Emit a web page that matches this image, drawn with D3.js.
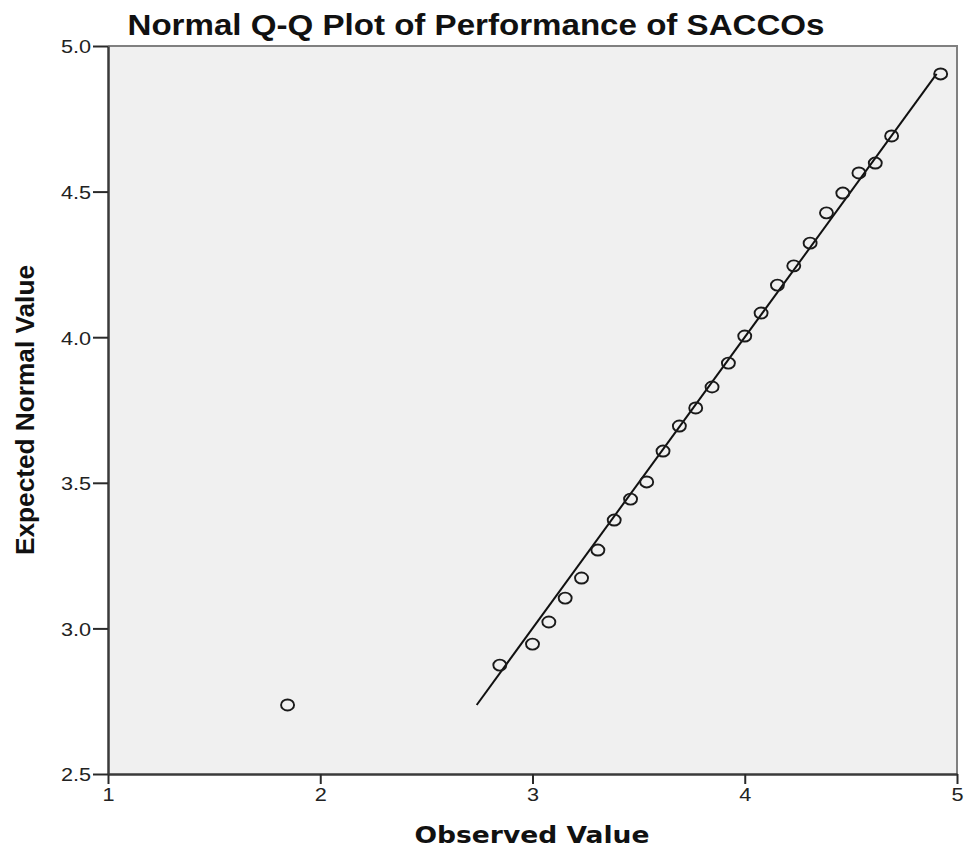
<!DOCTYPE html>
<html>
<head>
<meta charset="utf-8">
<script src="https://cdn.jsdelivr.net/npm/d3@7"></script>
<style>
  html, body { margin: 0; padding: 0; background: #fff; overflow: hidden; }
  svg { display: block; }
  .tick text { font-size: 19px; font-family: 'Liberation Sans', Arial, sans-serif; }
</style>
</head>
<body>
<svg id="chart" width="965" height="855"></svg>
<script>
// Observed scale scores (means of 13 items) and their expected normal values
const observed = [1.846, 2.846, 3.000, 3.077, 3.154, 3.231, 3.308, 3.385, 3.462, 3.538,
                  3.615, 3.692, 3.769, 3.846, 3.923, 4.000, 4.077, 4.154, 4.231, 4.308,
                  4.385, 4.462, 4.538, 4.615, 4.692, 4.923];
const expected = [2.737, 2.874, 2.946, 3.022, 3.104, 3.173, 3.269, 3.372, 3.444, 3.503,
                  3.609, 3.695, 3.757, 3.829, 3.911, 4.004, 4.083, 4.179, 4.245, 4.323,
                  4.427, 4.495, 4.564, 4.598, 4.691, 4.904];
const xTicks = [1, 2, 3, 4, 5];
const yTicks = [2.5, 3.0, 3.5, 4.0, 4.5, 5.0];
const title = "Normal Q-Q Plot of Performance of SACCOs";
const xLabel = "Observed Value";
const yLabel = "Expected Normal Value";

const svg = d3.select("#chart");
const plot = { left: 108, right: 957, top: 46, bottom: 774 };

const x = d3.scaleLinear().domain([1, 5]).range([plot.left, plot.right]);
const y = d3.scaleLinear().domain([2.5, 5.0]).range([plot.bottom, plot.top]);

// plot background and frame
svg.append("rect")
  .attr("x", plot.left).attr("y", plot.top)
  .attr("width", plot.right - plot.left).attr("height", plot.bottom - plot.top)
  .attr("fill", "#f0f0f0");
svg.append("path")
  .attr("d", `M${plot.left},${plot.top}H${plot.right}V${plot.bottom}`)
  .attr("fill", "none").attr("stroke", "#808080").attr("stroke-width", 2);

// axes
const xAxis = d3.axisBottom(x).tickValues(xTicks).tickFormat(d3.format("d"))
  .tickSizeInner(10).tickSizeOuter(0).tickPadding(4);
const yAxis = d3.axisLeft(y).tickValues(yTicks).tickFormat(d3.format(".1f"))
  .tickSizeInner(15).tickSizeOuter(0).tickPadding(2);

const gx = svg.append("g").attr("transform", `translate(0,${plot.bottom})`).call(xAxis);
const gy = svg.append("g").attr("transform", `translate(${plot.left},0)`).call(yAxis);

[gx, gy].forEach(g => {
  g.attr("font-size", 19).attr("font-family", "'Liberation Sans', Arial, sans-serif");
  g.select(".domain").attr("stroke", "#3a3a3a").attr("stroke-width", 2.5);
  g.selectAll(".tick line").attr("stroke", "#2a2a2a").attr("stroke-width", 2);
  // slightly wide tick lettering
  g.selectAll(".tick text").attr("fill", "#222")
    .each(function () {
      const w = this.getComputedTextLength();
      d3.select(this).attr("textLength", w * 1.14).attr("lengthAdjust", "spacingAndGlyphs");
    });
});
gy.selectAll(".tick text").attr("dy", "0.36em");

// reference line (expected = observed) across the range of expected values
const lineExtent = d3.extent(expected);
svg.append("line")
  .attr("x1", x(lineExtent[0])).attr("y1", y(lineExtent[0]))
  .attr("x2", x(lineExtent[1])).attr("y2", y(lineExtent[1]))
  .attr("stroke", "#111").attr("stroke-width", 2);

// data points
const pts = observed.map((o, i) => ({ o, e: expected[i] }));
svg.append("g").selectAll("ellipse").data(pts).join("ellipse")
  .attr("cx", d => x(d.o)).attr("cy", d => y(d.e))
  .attr("rx", 6.5).attr("ry", 5.5)
  .attr("fill", "none").attr("stroke", "#1a1a1a").attr("stroke-width", 1.9);

// title and axis titles
svg.append("text")
  .attr("x", 476).attr("y", 35)
  .attr("text-anchor", "middle")
  .attr("textLength", 697).attr("lengthAdjust", "spacingAndGlyphs")
  .style("font-family", "'Liberation Sans', Arial, sans-serif")
  .style("font-weight", "bold").style("font-size", "29px")
  .attr("fill", "#111")
  .text(title);

svg.append("text")
  .attr("x", 532).attr("y", 843)
  .attr("text-anchor", "middle")
  .attr("textLength", 235).attr("lengthAdjust", "spacingAndGlyphs")
  .style("font-family", "'DejaVu Sans', Verdana, sans-serif")
  .style("font-weight", "bold").style("font-size", "23px")
  .attr("fill", "#111")
  .text(xLabel);

svg.append("text")
  .attr("transform", "translate(34,410) rotate(-90)")
  .attr("text-anchor", "middle")
  .attr("textLength", 290).attr("lengthAdjust", "spacingAndGlyphs")
  .style("font-family", "'Liberation Sans', Arial, sans-serif")
  .style("font-weight", "bold").style("font-size", "25px")
  .attr("fill", "#111")
  .text(yLabel);
</script>
</body>
</html>
